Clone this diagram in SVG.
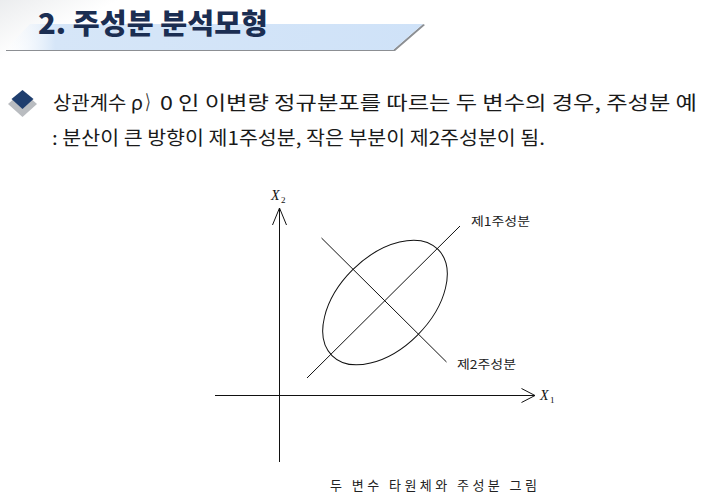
<svg xmlns="http://www.w3.org/2000/svg" width="702" height="496" viewBox="0 0 702 496">
<defs>
<linearGradient id="bannerGrad" x1="0" y1="0" x2="1" y2="0">
<stop offset="0" stop-color="#ffffff" stop-opacity="0.2"/>
<stop offset="0.12" stop-color="#d6e6f8"/>
<stop offset="1" stop-color="#cfe2f8"/>
</linearGradient>
<linearGradient id="bgGrad" x1="0" y1="0" x2="1" y2="1">
<stop offset="0" stop-color="#e6e8ea"/>
<stop offset="0.5" stop-color="#ffffff"/>
</linearGradient>
<style>
.body{font-family:"Noto Sans CJK KR","Noto Sans",sans-serif;fill:#1a1a1a;font-size:19px}
.lbl{font-family:"Noto Sans CJK KR","Noto Sans",sans-serif;fill:#222;font-size:12px}
.cap{font-family:"Noto Sans CJK KR","Noto Sans",sans-serif;fill:#222;font-size:13px}
.ax{stroke:#111;stroke-width:1;fill:none}
.var{font-family:"Liberation Serif",serif;font-style:italic;font-size:14px;fill:#111}
.sub{font-family:"Liberation Serif",serif;font-size:9px;fill:#111}
</style>
</defs>
<rect width="702" height="496" fill="#ffffff"/>
<rect x="0" y="0" width="120" height="60" fill="url(#bgGrad)" opacity="0.8"/>
<g id="title">
<polygon points="6,51 395,51 425,25 423,24 393,50 6,50" fill="#6f7378" opacity="0.8"/>
<polygon points="30,24 423,24 393,50 5,50" fill="url(#bannerGrad)"/>
<text x="38" y="34" textLength="230" lengthAdjust="spacingAndGlyphs" style="font-family:'Noto Sans CJK KR','Noto Sans',sans-serif;font-weight:900;font-size:28px;fill:#1b2e52">2. 주성분 분석모형</text>
</g>
<g id="bullet">
<polygon points="8,104 22.5,91 37,104 22.5,117" fill="#b9bcc0"/>
<polygon points="22.5,90 33.5,99 22.5,109 11.5,99" fill="#1f3e6e"/>
<text class="body" y="110"><tspan x="53" textLength="90" lengthAdjust="spacingAndGlyphs">상관계수 ρ</tspan><tspan x="146" textLength="8" lengthAdjust="spacingAndGlyphs" style="stroke:#1a1a1a;stroke-width:0.6">〉</tspan><tspan x="160" textLength="537" lengthAdjust="spacingAndGlyphs">0 인 이변량 정규분포를 따르는 두 변수의 경우, 주성분 예</tspan></text>
<text class="body" x="52" y="145" textLength="493" lengthAdjust="spacingAndGlyphs">: 분산이 큰 방향이 제1주성분, 작은 부분이 제2주성분이 됨.</text>
</g>
<g id="connectors">
<line class="ax" x1="279.5" y1="462" x2="279.5" y2="208"/>
<polyline class="ax" points="272.5,225 279.5,208 286.5,225"/>
<line class="ax" x1="215" y1="395.5" x2="535" y2="395.5"/>
<polyline class="ax" points="521.5,388.5 535,395.5 521.5,402.5"/>
<line class="ax" x1="307" y1="378" x2="460" y2="226"/>
<line class="ax" x1="321.5" y1="238" x2="446.5" y2="362"/>
</g>
<g id="ellipse">
<ellipse cx="385" cy="302.5" rx="75" ry="46" transform="rotate(-45 385 302.5)" class="ax"/>
</g>
<g id="axis-x2">
<text class="var" x="271" y="200">X</text><text class="sub" x="281" y="203">2</text>
</g>
<g id="axis-x1">
<text class="var" x="540" y="400">X</text><text class="sub" x="550" y="403">1</text>
</g>
<g id="pc1-label">
<text class="lbl" x="471" y="226" textLength="59" lengthAdjust="spacingAndGlyphs">제1주성분</text>
</g>
<g id="pc2-label">
<text class="lbl" x="457" y="369" textLength="59" lengthAdjust="spacingAndGlyphs">제2주성분</text>
</g>
<g id="caption">
<text class="cap" x="330" y="490" textLength="207" lengthAdjust="spacing">두 변수 타원체와 주성분 그림</text>
</g>
</svg>
